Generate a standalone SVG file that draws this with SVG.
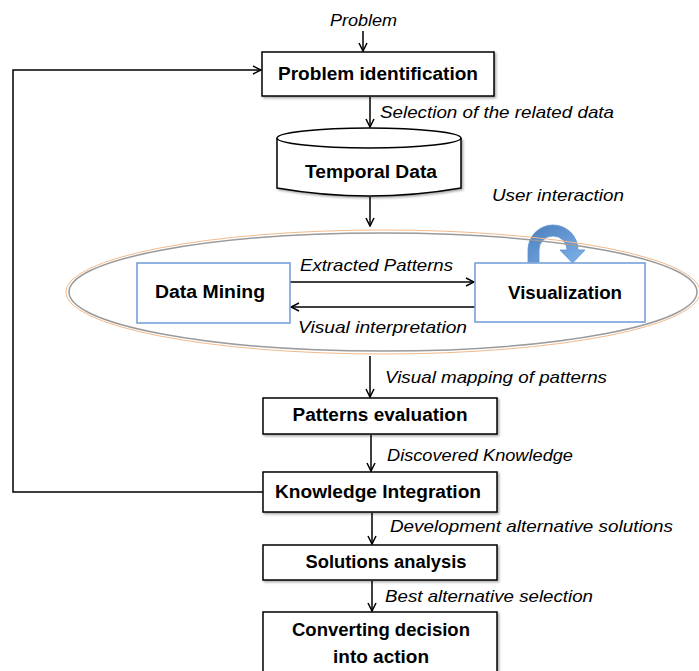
<svg xmlns="http://www.w3.org/2000/svg" width="699" height="671" viewBox="0 0 699 671">
<defs>
<marker id="ah" markerWidth="10" markerHeight="10" refX="9" refY="5" orient="auto" markerUnits="userSpaceOnUse">
<path d="M1,1 L9,5 L1,9" fill="none" stroke="#000" stroke-width="1.5"/>
</marker>
<linearGradient id="bg" x1="0" y1="0" x2="1" y2="1">
<stop offset="0" stop-color="#4a7ebb"/>
<stop offset="1" stop-color="#7fb2ea"/>
</linearGradient>
<filter id="sh" x="-5%" y="-5%" width="115%" height="120%">
<feDropShadow dx="1.5" dy="1.5" stdDeviation="1" flood-color="#000" flood-opacity="0.35"/>
</filter>
</defs>
<style>
.box{fill:#fff;stroke:#000;stroke-width:1.5}
.bbox{fill:#fff;stroke:#6f9bd6;stroke-width:1.5}
.b{font-family:"Liberation Sans",Arial,sans-serif;font-weight:bold;font-size:18px;text-anchor:middle;fill:#000}
.i{font-family:"Liberation Sans",Arial,sans-serif;font-style:italic;font-size:17px;fill:#000}
.c{fill:none;stroke:#000;stroke-width:1.5}
</style>
<rect width="699" height="671" fill="#fff"/>

<g id="connectors">
<line class="c" x1="363" y1="31" x2="363" y2="51" marker-end="url(#ah)"/>
<line class="c" x1="370" y1="97" x2="370" y2="127" marker-end="url(#ah)"/>
<line class="c" x1="370" y1="197" x2="370" y2="226" marker-end="url(#ah)"/>
<line class="c" x1="290" y1="282" x2="474" y2="282" marker-end="url(#ah)"/>
<line class="c" x1="475" y1="307" x2="291" y2="307" marker-end="url(#ah)"/>
<line class="c" x1="370" y1="356" x2="370" y2="397" marker-end="url(#ah)"/>
<line class="c" x1="371" y1="435" x2="371" y2="471" marker-end="url(#ah)"/>
<line class="c" x1="372" y1="513" x2="372" y2="544" marker-end="url(#ah)"/>
<line class="c" x1="372" y1="581" x2="372" y2="611" marker-end="url(#ah)"/>
<polyline class="c" points="263,492 13,492 13,70 261,70" marker-end="url(#ah)"/>
<path d="M528,262 L528,250 A25,25 0 0 1 578,250 L585,250 L572.5,263 L560,250 L567,250 A14,14 0 0 0 539,250 L539,262 Z" fill="url(#bg)" stroke="#5a8fd0" stroke-width="0.8"/>
<text class="i" x="330" y="26" textLength="67" lengthAdjust="spacingAndGlyphs">Problem</text>
<text class="i" x="380" y="118" textLength="234" lengthAdjust="spacingAndGlyphs">Selection of the related data</text>
<text class="i" x="492" y="201" textLength="132" lengthAdjust="spacingAndGlyphs">User interaction</text>
<text class="i" x="300" y="271" textLength="153" lengthAdjust="spacingAndGlyphs">Extracted Patterns</text>
<text class="i" x="298" y="333" textLength="169" lengthAdjust="spacingAndGlyphs">Visual interpretation</text>
<text class="i" x="385" y="383" textLength="222" lengthAdjust="spacingAndGlyphs">Visual mapping of patterns</text>
<text class="i" x="387" y="461" textLength="186" lengthAdjust="spacingAndGlyphs">Discovered Knowledge</text>
<text class="i" x="390" y="532" textLength="283" lengthAdjust="spacingAndGlyphs">Development alternative solutions</text>
<text class="i" x="385" y="602" textLength="208" lengthAdjust="spacingAndGlyphs">Best alternative selection</text>
</g>

<g id="loop">
<ellipse cx="383" cy="292" rx="317" ry="62" fill="none" stroke="#f2b98a" stroke-width="1"/>
<ellipse cx="383" cy="292" rx="314" ry="59" fill="none" stroke="#9a9a9a" stroke-width="1.5"/>
</g>

<g id="problem-identification">
<rect class="box" x="262" y="52" width="232" height="44" filter="url(#sh)"/>
<text class="b" x="378" y="80" textLength="200" lengthAdjust="spacingAndGlyphs">Problem identification</text>
</g>

<g id="temporal-data">
<path d="M277,138 L277,188 Q369,204 461,188 L461,138" fill="#fff" stroke="#000" stroke-width="1.5" filter="url(#sh)"/>
<ellipse cx="369" cy="138" rx="92" ry="10" fill="#fff" stroke="#000" stroke-width="1.5"/>
<text class="b" x="371" y="178" textLength="132" lengthAdjust="spacingAndGlyphs">Temporal Data</text>
</g>

<g id="data-mining">
<rect class="bbox" x="137" y="263" width="153" height="60"/>
<text class="b" x="210" y="298" textLength="110" lengthAdjust="spacingAndGlyphs">Data Mining</text>
</g>

<g id="visualization">
<rect class="bbox" x="475" y="263" width="170" height="59"/>
<text class="b" x="565" y="299" textLength="114" lengthAdjust="spacingAndGlyphs">Visualization</text>
</g>

<g id="patterns-evaluation">
<rect class="box" x="263" y="398" width="234" height="36" filter="url(#sh)"/>
<text class="b" x="380" y="421" textLength="175" lengthAdjust="spacingAndGlyphs">Patterns evaluation</text>
</g>

<g id="knowledge-integration">
<rect class="box" x="263" y="472" width="234" height="40" filter="url(#sh)"/>
<text class="b" x="378" y="498" textLength="206" lengthAdjust="spacingAndGlyphs">Knowledge Integration</text>
</g>

<g id="solutions-analysis">
<rect class="box" x="263" y="545" width="234" height="35" filter="url(#sh)"/>
<text class="b" x="386" y="568" textLength="161" lengthAdjust="spacingAndGlyphs">Solutions analysis</text>
</g>

<g id="converting-decision">
<rect class="box" x="263" y="612" width="234" height="70" filter="url(#sh)"/>
<text class="b" x="381" y="636" textLength="178" lengthAdjust="spacingAndGlyphs">Converting decision</text>
<text class="b" x="381" y="663" textLength="96" lengthAdjust="spacingAndGlyphs">into action</text>
</g>
</svg>
